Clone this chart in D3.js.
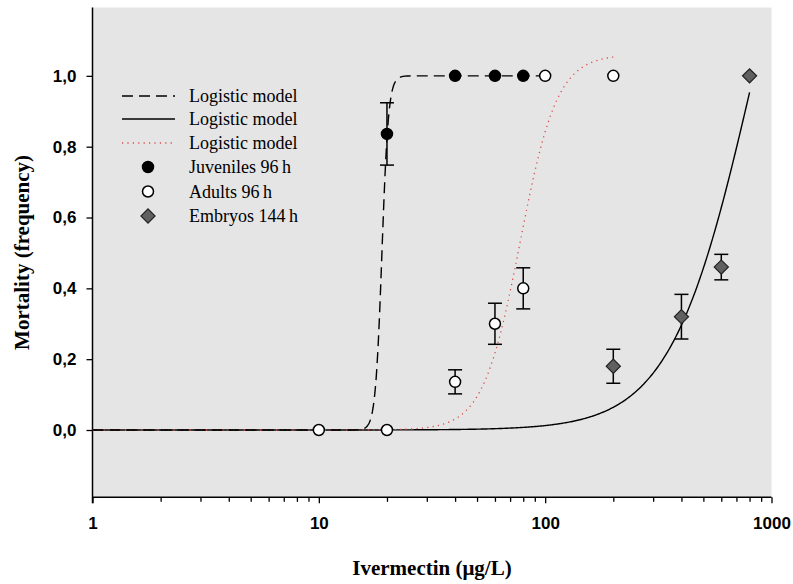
<!DOCTYPE html>
<html lang="en">
<head>
  <meta charset="UTF-8" />
  <title>Ivermectin mortality</title>
  <script src="https://d3js.org/d3.v7.min.js"></script>
  <style>
    body { margin: 0; background: #fff; }
    svg { display: block; font-family: 'Liberation Serif', 'Times New Roman', serif; }
    .tick-label { font-weight: bold; font-size: 17px; }
    .axis-title { font-weight: bold; font-size: 21px; }
    .legend text { font-size: 18px; }
  </style>
</head>
<body>
<div id="chart"></div>
<script>
  // Observed points (mean and standard error)
  const juvX = [20, 40, 60, 80];
  const juvY = [0.836, 1, 1, 1];
  const juvErr = [0.088, 0, 0, 0];

  const adultX = [10, 20, 40, 60, 80, 100, 200];
  const adultY = [0, 0, 0.136, 0.30, 0.40, 1, 1];
  const adultErr = [0, 0, 0.034, 0.058, 0.058, 0, 0];

  const embX = [200, 400, 600, 800];
  const embY = [0.18, 0.32, 0.46, 1.0];
  const embErr = [0.048, 0.063, 0.036, 0];

  // Logistic model parameters: y = a / (1 + (x / x0)^b), fitted range [xmin, xmax]
  const juvModel = { a: 1.0, x0: 19, b: -30, xmin: 1, xmax: 100 };
  const adultModel = { a: 1.06, x0: 77.5, b: -5.3, xmin: 1, xmax: 200 };
  const embModel = { a: 2.0, x0: 832, b: -2.39, xmin: 1, xmax: 800 };

  const xTicks = [1, 10, 100, 1000];
  const yTicks = [0, 0.2, 0.4, 0.6, 0.8, 1.0];
  const legendLabels = ["Logistic model", "Logistic model", "Logistic model",
                        "Juveniles 96\u2009h", "Adults 96\u2009h", "Embryos 144\u2009h"];

  const width = 793, height = 584;
  const plotL = 92.5, plotR = 771.5, plotT = 7.5, plotB = 497.3;

  const svg = d3.select("#chart").append("svg")
    .attr("width", width).attr("height", height);

  const x = d3.scaleLog().domain([1, 1000]).range([plotL, plotR]);
  const y = d3.scaleLinear().domain([-0.19, 1.193]).range([plotB, plotT]);

  // plot background
  svg.append("rect")
    .attr("x", plotL).attr("y", plotT)
    .attr("width", plotR - plotL).attr("height", plotB - plotT)
    .attr("fill", "#e5e5e5");

  // axes
  const minorVals = d3.range(0, 3).flatMap(p => d3.range(1, 10).map(k => k * Math.pow(10, p))).concat([1000]);
  const xAxis = d3.axisBottom(x)
    .tickValues(minorVals)
    .tickSize(6)
    .tickFormat(d => xTicks.includes(d) ? d : "");
  const gx = svg.append("g").attr("transform", `translate(0,${plotB})`).call(xAxis);
  gx.select(".domain").attr("d", `M${plotL},0H${plotR}`).attr("stroke-width", 1.5);
  gx.selectAll(".tick line")
    .attr("y2", d => xTicks.includes(d) ? 6 : 4.5)
    .attr("stroke-width", 1.3);
  gx.selectAll(".tick text")
    .attr("class", "tick-label").attr("y", 20).attr("dy", "0.71em")
    .attr("fill", "#000");

  const yAxis = d3.axisLeft(y).tickValues(yTicks).tickSize(6)
    .tickFormat(d => d3.format(".1f")(d).replace(".", ","));
  const gy = svg.append("g").attr("transform", `translate(${plotL},0)`).call(yAxis);
  gy.select(".domain").attr("d", `M0,${plotT}V${plotB + 6}`).attr("stroke-width", 1.5);
  gy.selectAll(".tick line").attr("stroke-width", 1.3);
  gy.selectAll(".tick text").attr("class", "tick-label").attr("x", -16).attr("fill", "#000");

  // axis titles
  svg.append("text").attr("class", "axis-title")
    .attr("x", (plotL + plotR) / 2).attr("y", 575)
    .attr("text-anchor", "middle").text("Ivermectin (\u03bcg/L)");
  svg.append("text").attr("class", "axis-title")
    .attr("transform", `translate(29,${(plotT + plotB) / 2}) rotate(-90)`)
    .attr("text-anchor", "middle").text("Mortality (frequency)");

  // model curves
  function curve(m) {
    const pts = d3.range(0, 601).map(i => m.xmin * Math.pow(m.xmax / m.xmin, i / 600));
    return pts.map(v => [v, m.a / (1 + Math.pow(v / m.x0, m.b))]);
  }
  const line = d3.line().x(d => x(d[0])).y(d => y(d[1]));

  const styles = [
    { model: embModel, stroke: "#000", dash: null, width: 1.4 },
    { model: adultModel, stroke: "#dc4a4a", dash: "1.2,4.2", width: 1.3 },
    { model: juvModel, stroke: "#000", dash: "11,6", width: 1.4 }
  ];
  styles.forEach(s => {
    svg.append("path")
      .attr("d", line(curve(s.model)))
      .attr("fill", "none")
      .attr("stroke", s.stroke)
      .attr("stroke-width", s.width)
      .attr("stroke-dasharray", s.dash);
  });

  // error bars
  function errorBars(xs, ys, es) {
    const g = svg.append("g").attr("stroke", "#000").attr("stroke-width", 1.5);
    xs.forEach((v, i) => {
      if (!es[i]) return;
      const cx = x(v), y1 = y(ys[i] + es[i]), y2 = y(ys[i] - es[i]);
      g.append("line").attr("x1", cx).attr("x2", cx).attr("y1", y1).attr("y2", y2);
      g.append("line").attr("x1", cx - 7).attr("x2", cx + 7).attr("y1", y1).attr("y2", y1);
      g.append("line").attr("x1", cx - 7).attr("x2", cx + 7).attr("y1", y2).attr("y2", y2);
    });
  }
  errorBars(adultX, adultY, adultErr);
  errorBars(embX, embY, embErr);
  errorBars(juvX, juvY, juvErr);

  const diamond = d3.symbol().type(d3.symbolSquare).size(100);

  function circles(xs, ys, fill) {
    svg.append("g").selectAll("circle").data(xs).join("circle")
      .attr("cx", d => x(d)).attr("cy", (d, i) => y(ys[i]))
      .attr("r", 5.5).attr("fill", fill)
      .attr("stroke", "#000").attr("stroke-width", 1.5);
  }
  circles(juvX, juvY, "#000");
  circles(adultX, adultY, "#fff");
  svg.append("g").selectAll("path").data(embX).join("path")
    .attr("d", diamond)
    .attr("transform", (d, i) => `translate(${x(d)},${y(embY[i])}) rotate(45)`)
    .attr("fill", "#606060").attr("stroke", "#222").attr("stroke-width", 1.2);

  // legend
  const legend = svg.append("g").attr("class", "legend");
  const rowY = [96, 119, 143, 167, 191.5, 216];
  const lineStyles = [styles[2], styles[0], styles[1]];
  lineStyles.forEach((s, i) => {
    legend.append("line")
      .attr("x1", 122).attr("x2", 175).attr("y1", rowY[i]).attr("y2", rowY[i])
      .attr("stroke", s.stroke).attr("stroke-width", s.width)
      .attr("stroke-dasharray", s.dash);
  });
  legend.append("circle").attr("cx", 148).attr("cy", rowY[3]).attr("r", 5.5)
    .attr("fill", "#000").attr("stroke", "#000").attr("stroke-width", 1.5);
  legend.append("circle").attr("cx", 148).attr("cy", rowY[4]).attr("r", 5.5)
    .attr("fill", "#fff").attr("stroke", "#000").attr("stroke-width", 1.5);
  legend.append("path").attr("d", diamond)
    .attr("transform", `translate(148,${rowY[5]}) rotate(45)`)
    .attr("fill", "#606060").attr("stroke", "#222").attr("stroke-width", 1.2);
  legendLabels.forEach((t, i) => {
    legend.append("text").attr("x", 189).attr("y", rowY[i]).attr("dy", "0.35em").text(t);
  });
</script>
</body>
</html>
